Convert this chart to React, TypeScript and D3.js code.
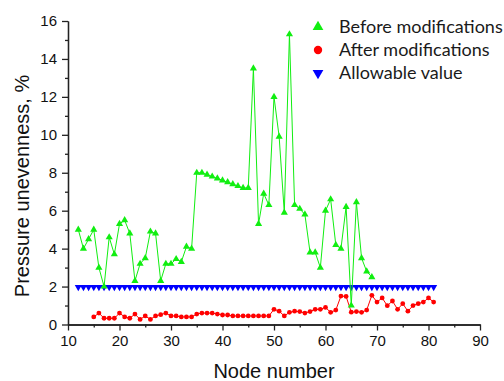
import React, { useEffect, useRef } from 'react';
import * as d3 from 'd3';

// node numbers and values
const beforeNodes = [12, 13, 14, 15, 16, 17, 18, 19, 20, 21, 22, 23, 24, 25, 26, 27, 28, 29, 30, 31,
  32, 33, 34, 35, 36, 37, 38, 39, 40, 41, 42, 43, 44, 45, 46, 47, 48, 49, 50, 51,
  52, 53, 54, 55, 56, 57, 58, 59, 60, 61, 62, 63, 64, 65, 66, 67, 68, 69];
const beforeValues = [5.0, 4.0, 4.5, 5.0, 3.0, 2.0, 4.6, 3.7, 5.3, 5.5, 4.8, 2.3, 3.2, 3.5, 4.9, 4.8, 2.3, 3.2, 3.2, 3.45,
  3.3, 4.1, 4.0, 8.0, 8.0, 7.9, 7.8, 7.7, 7.6, 7.5, 7.4, 7.3, 7.2, 7.2, 13.5, 5.3, 6.9, 6.3, 12.0, 9.9,
  5.9, 15.3, 6.3, 6.1, 5.8, 3.8, 3.8, 3.0, 6.0, 6.6, 4.2, 4.0, 6.2, 1.0, 6.45, 3.5, 2.8, 2.5];

const afterNodes = [15, 16, 17, 18, 19, 20, 21, 22, 23, 24, 25, 26, 27, 28, 29, 30, 31, 32, 33, 34,
  35, 36, 37, 38, 39, 40, 41, 42, 43, 44, 45, 46, 47, 48, 49, 50, 51, 52, 53, 54,
  55, 56, 57, 58, 59, 60, 61, 62, 63, 64, 65, 66, 67, 68, 69, 70, 71, 72, 73, 74,
  75, 76, 77, 78, 79, 80, 81];
const afterValues = [0.4, 0.6, 0.33, 0.33, 0.33, 0.6, 0.4, 0.33, 0.55, 0.27, 0.45, 0.27, 0.45, 0.52, 0.6, 0.45, 0.45, 0.4, 0.4, 0.4,
  0.55, 0.6, 0.6, 0.6, 0.55, 0.5, 0.5, 0.45, 0.45, 0.45, 0.45, 0.45, 0.45, 0.45, 0.45, 0.8, 0.7, 0.45, 0.64, 0.7,
  0.68, 0.6, 0.68, 0.8, 0.8, 0.9, 0.64, 0.76, 1.5, 1.48, 0.65, 0.68, 0.64, 0.76, 1.54, 1.18, 1.4, 0.99, 1.24, 0.8,
  1.1, 0.7, 1.0, 1.1, 1.18, 1.4, 1.18];

const allowableNodes = [12, 13, 14, 15, 16, 17, 18, 19, 20, 21, 22, 23, 24, 25, 26, 27, 28, 29, 30, 31,
  32, 33, 34, 35, 36, 37, 38, 39, 40, 41, 42, 43, 44, 45, 46, 47, 48, 49, 50, 51,
  52, 53, 54, 55, 56, 57, 58, 59, 60, 61, 62, 63, 64, 65, 66, 67, 68, 69, 70, 71,
  72, 73, 74, 75, 76, 77, 78, 79, 80, 81];
const allowableValue = 2;

const xTicks = [10, 20, 30, 40, 50, 60, 70, 80, 90];
const xMinorTicks = [15, 25, 35, 45, 55, 65, 75, 85];
const yTicks = [0, 2, 4, 6, 8, 10, 12, 14, 16];
const yMinorTicks = [1, 3, 5, 7, 9, 11, 13, 15];

const legendLabels = ['Before modifications', 'After modifications', 'Allowable value'];

const width = 504;
const height = 381;

const App = () => {
  const ref = useRef<SVGSVGElement>(null);

  useEffect(() => {
    const svg = d3.select(ref.current);
    svg.selectAll('*').remove();

    const x = d3.scaleLinear().domain([10, 90]).range([68, 480]);
    const y = d3.scaleLinear().domain([0, 16]).range([324.5, 21]);

    const axisColor = '#222';
    const tickFont = '"Liberation Sans", Arial, sans-serif';

    // axes
    const gx = svg.append('g').attr('transform', `translate(0,${y(0)})`);
    gx.call(d3.axisBottom(x).tickValues(xTicks).tickSize(6).tickPadding(5).tickSizeOuter(0));
    const gxm = svg.append('g').attr('transform', `translate(0,${y(0)})`);
    gxm.call(d3.axisBottom(x).tickValues(xMinorTicks).tickSize(3).tickFormat(() => '').tickSizeOuter(0));

    const gy = svg.append('g').attr('transform', `translate(${x(10)},0)`);
    gy.call(d3.axisLeft(y).tickValues(yTicks).tickSize(6).tickPadding(5).tickSizeOuter(0));
    const gym = svg.append('g').attr('transform', `translate(${x(10)},0)`);
    gym.call(d3.axisLeft(y).tickValues(yMinorTicks).tickSize(3).tickFormat(() => '').tickSizeOuter(0));

    svg.selectAll('.domain').attr('stroke', axisColor).attr('stroke-width', 1.3);
    svg.selectAll('.tick line').attr('stroke', axisColor).attr('stroke-width', 1.3);
    svg.selectAll('.tick text')
      .attr('fill', '#111')
      .style('font-family', tickFont)
      .style('font-size', '15px');

    // axis titles
    svg.append('text')
      .attr('x', (x(10) + x(90)) / 2)
      .attr('y', 378)
      .attr('text-anchor', 'middle')
      .style('font-family', tickFont)
      .style('font-size', '20px')
      .attr('fill', '#111')
      .text('Node number');

    svg.append('text')
      .attr('transform', 'translate(29,186) rotate(-90)')
      .attr('text-anchor', 'middle')
      .style('font-family', tickFont)
      .style('font-size', '20px')
      .attr('fill', '#111')
      .text('Pressure unevenness, %');

    const green = '#11ee11';
    const red = '#ff0000';
    const blue = '#0000ff';

    const line = d3.line<[number, number]>().x(d => x(d[0])).y(d => y(d[1]));
    const triUp = d3.symbol().type(d3.symbolTriangle).size(22);
    const triDown = d3.symbol().type(d3.symbolTriangle).size(22);

    // allowable value
    const allowData: [number, number][] = allowableNodes.map(n => [n, allowableValue]);
    svg.append('path').attr('d', line(allowData)).attr('fill', 'none').attr('stroke', blue).attr('stroke-width', 1);
    svg.append('g').selectAll('path').data(allowData).enter().append('path')
      .attr('d', triDown())
      .attr('transform', d => `translate(${x(d[0])},${y(d[1]) + 0.5}) rotate(180)`)
      .attr('fill', blue);

    // after modifications
    const afterData: [number, number][] = afterNodes.map((n, i) => [n, afterValues[i]]);
    svg.append('path').attr('d', line(afterData)).attr('fill', 'none').attr('stroke', red).attr('stroke-width', 1);
    svg.append('g').selectAll('circle').data(afterData).enter().append('circle')
      .attr('cx', d => x(d[0]))
      .attr('cy', d => y(d[1]))
      .attr('r', 2.4)
      .attr('fill', red);

    // before modifications
    const beforeData: [number, number][] = beforeNodes.map((n, i) => [n, beforeValues[i]]);
    svg.append('path').attr('d', line(beforeData)).attr('fill', 'none').attr('stroke', green).attr('stroke-width', 1);
    svg.append('g').selectAll('path').data(beforeData).enter().append('path')
      .attr('d', triUp())
      .attr('transform', d => `translate(${x(d[0])},${y(d[1])})`)
      .attr('fill', green);

    // legend
    const legend = svg.append('g');
    const legendY = [27, 50, 73];
    const legendSym = [
      d3.symbol().type(d3.symbolTriangle).size(50)(),
      d3.symbol().type(d3.symbolCircle).size(55)(),
      d3.symbol().type(d3.symbolTriangle).size(50)(),
    ];
    const legendColor = [green, red, blue];
    legendLabels.forEach((label, i) => {
      legend.append('path')
        .attr('d', legendSym[i])
        .attr('transform', `translate(318,${legendY[i]})${i === 2 ? ' rotate(180)' : ''}`)
        .attr('fill', legendColor[i]);
      legend.append('text')
        .attr('x', 339)
        .attr('y', legendY[i] + 6)
        .style('font-family', 'Lato, "Open Sans", sans-serif')
        .style('font-size', '18px')
        .attr('fill', '#1a1a1a')
        .text(label);
    });
  }, []);

  return (
    <div style={{ position: 'absolute', left: 0, top: 0 }}>
      <svg ref={ref} width={width} height={height} style={{ display: 'block', background: '#fff' }} />
    </div>
  );
};

export default App;
